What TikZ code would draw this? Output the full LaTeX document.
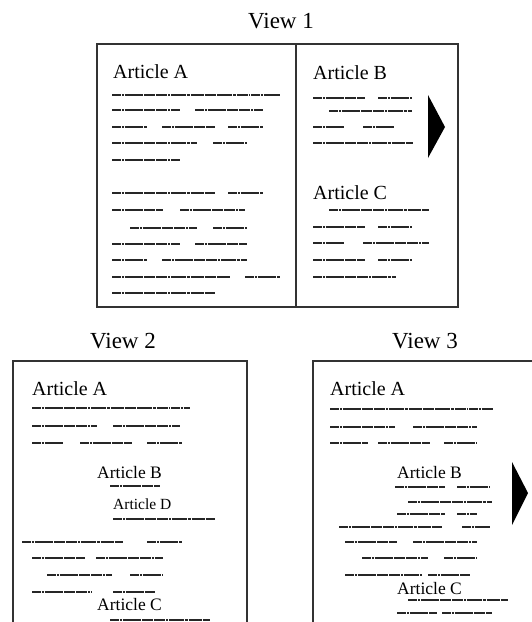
\documentclass[tikz,border=0pt]{standalone}
\usepackage{fontspec}
\setmainfont{Liberation Serif}
\begin{document}
\begin{tikzpicture}[x=1pt,y=-1pt,
  frame/.style={line width=1.2pt,draw=black!80},
  scrib/.style={line width=1.3pt,draw=black!85,
    dash pattern=on 9pt off 0.8pt on 2pt off 0.8pt on 15pt off 0.8pt on 3pt off 0.8pt on 11pt off 0.8pt on 1.5pt off 0.8pt},
  viewlbl/.style={font=\fontsize{23}{23}\selectfont,anchor=base,inner sep=0pt},
  art/.style={font=\fontsize{20}{20}\selectfont,anchor=base west,inner sep=0pt},
  artm/.style={font=\fontsize{17.5}{17.5}\selectfont,anchor=base west,inner sep=0pt},
  arts/.style={font=\fontsize{15.5}{15.5}\selectfont,anchor=base west,inner sep=0pt},
  tri/.style={fill=black,draw=none}]
\useasboundingbox (0,0) rectangle (532,622);
\newcommand\scrl[3]{\draw[scrib] (#1,#3) -- (#2,#3);}
% ---------- View 1 ----------
\node[viewlbl] (v1) at (281,28) {View 1};
\draw[frame] (97,44) rectangle (458,307);
\draw[frame] (296,44) -- (296,307);
\node[art] (a1) at (113,78) {Article A};
\scrl{112}{280}{95}
\scrl{112}{180}{110} \scrl{195}{263}{110}
\scrl{112}{147}{127} \scrl{162}{215}{127} \scrl{228}{263}{127}
\scrl{112}{197}{143} \scrl{213}{247}{143}
\scrl{112}{180}{160}
\scrl{112}{215}{193} \scrl{228}{263}{193}
\scrl{112}{163}{210} \scrl{180}{245}{210}
\scrl{130}{197}{228} \scrl{213}{247}{228}
\scrl{112}{180}{244} \scrl{195}{247}{244}
\scrl{112}{147}{260} \scrl{162}{247}{260}
\scrl{112}{230}{277} \scrl{245}{280}{277}
\scrl{112}{215}{293}
\node[art] (b1) at (313,79) {Article B};
\scrl{313}{365}{98} \scrl{378}{412}{98}
\scrl{329}{412}{111}
\scrl{313}{345}{127} \scrl{363}{395}{127}
\scrl{313}{413}{143}
\node[art] (c1) at (313,199) {Article C};
\scrl{329}{429}{210}
\scrl{313}{365}{227} \scrl{378}{412}{227}
\scrl{313}{345}{243} \scrl{363}{429}{243}
\scrl{313}{365}{260} \scrl{378}{412}{260}
\scrl{313}{396}{277}
\fill[tri] (428,95) -- (445,127) -- (428,158) -- cycle;
% ---------- View 2 ----------
\node[viewlbl] (v2) at (123,348) {View 2};
\draw[frame] (13,622) -- (13,361) -- (247,361) -- (247,622);
\node[art] (a2) at (32,395) {Article A};
\scrl{32}{190}{408}
\scrl{32}{97}{426} \scrl{113}{180}{426}
\scrl{32}{63}{443} \scrl{80}{132}{443} \scrl{147}{182}{443}
\node[artm] (b2) at (97,478) {Article B};
\scrl{110}{160}{486}
\node[arts] (d2) at (113,509) {Article D};
\scrl{113}{215}{519}
\scrl{22}{123}{542} \scrl{147}{182}{542}
\scrl{32}{85}{558} \scrl{96}{163}{558}
\scrl{47}{112}{575} \scrl{130}{163}{575}
\scrl{32}{92}{592} \scrl{113}{155}{592}
\node[artm] (c2) at (97,610) {Article C};
\scrl{110}{210}{620}
% ---------- View 3 ----------
\node[viewlbl] (v3) at (425,348) {View 3};
\draw[frame] (532,361) -- (313,361) -- (313,622);
\node[art] (a3) at (330,395) {Article A};
\scrl{330}{493}{409}
\scrl{330}{395}{427} \scrl{413}{477}{427}
\scrl{330}{368}{443} \scrl{378}{430}{443} \scrl{444}{477}{443}
\node[artm] (b3) at (397,478) {Article B};
\scrl{395}{445}{487} \scrl{457}{490}{487}
\scrl{408}{492}{502}
\scrl{397}{445}{514} \scrl{457}{477}{514}
\scrl{339}{442}{527} \scrl{462}{490}{527}
\scrl{345}{397}{542} \scrl{413}{477}{542}
\scrl{362}{428}{558} \scrl{444}{477}{558}
\scrl{345}{422}{575} \scrl{428}{470}{575}
\node[artm] (c3) at (397,594) {Article C};
\scrl{408}{508}{600}
\scrl{397}{437}{613} \scrl{442}{492}{613}
\fill[tri] (512,462) -- (528,493) -- (512,525) -- cycle;
\end{tikzpicture}
\end{document}
